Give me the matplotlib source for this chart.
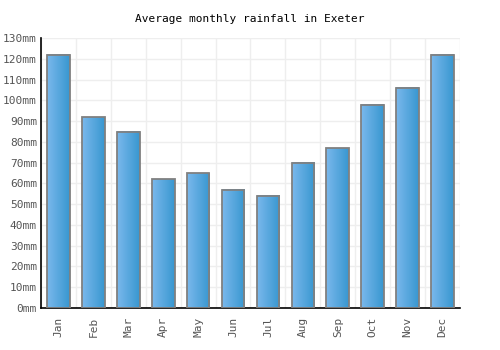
import matplotlib
matplotlib.use("Agg")
import matplotlib.pyplot as plt
import numpy as np
from matplotlib.colors import LinearSegmentedColormap
from matplotlib.patches import Rectangle

months = ["Jan", "Feb", "Mar", "Apr", "May", "Jun", "Jul", "Aug", "Sep", "Oct", "Nov", "Dec"]
rainfall = [122, 92, 85, 62, 65, 57, 54, 70, 77, 98, 106, 122]
yticks = list(range(0, 131, 10))
ytick_labels = [f"{v}mm" for v in yticks]
title = "Average monthly rainfall in Exeter"

plt.rcParams['font.family'] = ['DejaVu Sans Mono']

fig = plt.figure(figsize=(5, 3.5), dpi=100)
ax = fig.add_axes([0.082, 0.12, 0.838, 0.771])

cmap = LinearSegmentedColormap.from_list("g", ["#7ab8ec", "#3897d0"])
grad = np.linspace(0, 1, 64).reshape(1, -1)
w = 0.65
x = np.arange(len(months))
for xi, v in zip(x, rainfall):
    ax.imshow(grad, cmap=cmap, extent=(xi - w / 2, xi + w / 2, 0, v), aspect='auto',
              zorder=2, interpolation='bilinear')
    ax.add_patch(Rectangle((xi - w / 2, 0), w, v, fill=False, edgecolor="#808080",
                           linewidth=1.3, zorder=4))

ax.set_xlim(-0.5, len(months) - 0.5)
ax.set_ylim(0, 130)
ax.set_xticks(x)
ax.set_xticklabels(months, rotation=90, fontsize=8, color="#555555")
ax.set_yticks(yticks)
ax.set_yticklabels(ytick_labels, fontsize=8, color="#555555")
ax.set_xticks(np.arange(-0.5, len(months), 1), minor=True)
ax.tick_params(axis='both', which='both', length=0)
ax.tick_params(axis='x', pad=6)
ax.tick_params(axis='y', pad=3)
ax.grid(True, which='major', axis='y', color="#eeeeee", linewidth=1, zorder=0)
ax.grid(True, which='minor', axis='x', color="#eeeeee", linewidth=1, zorder=0)
for gl in ax.xaxis.get_minorticklines() + ax.xaxis.get_gridlines():
    gl.set_clip_on(False)
ax.set_axisbelow(True)
for s in ['top', 'right']:
    ax.spines[s].set_visible(False)
ax.spines['left'].set_color('black')
ax.spines['bottom'].set_color('black')
ax.spines['left'].set_linewidth(1.2)
ax.spines['bottom'].set_linewidth(1.2)

fig.text(0.5, 0.947, title, ha='center', va='center', fontsize=8, color='black')

fig.savefig("out.png", dpi=100)
